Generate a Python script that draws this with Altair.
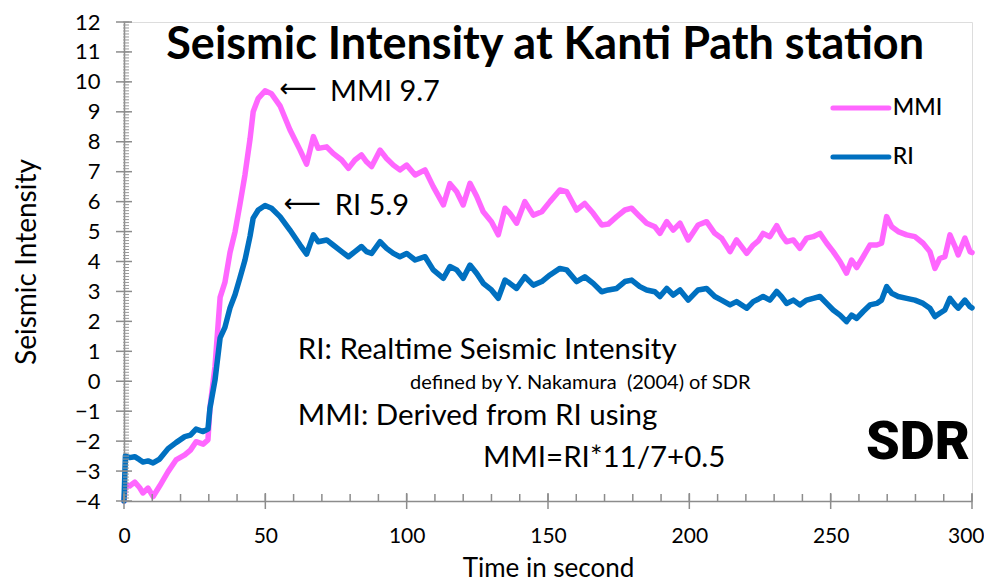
import altair as alt
import pandas as pd

# ---- data ----
time_s = [0, 0.5, 2, 3.8, 5.5, 6.7, 8.5, 10.3, 12.6, 15.6, 18.4, 21.5, 23.5, 25.5, 28, 29.7,
          30.4, 32.2, 34, 35.7, 37.5, 39.3, 41, 42.8, 44.6, 45.7, 47.5, 49.9, 52.2, 55.2, 58.7,
          62.3, 64.6, 67, 68.7, 71.7, 74, 77, 79.4, 81.7, 84, 85.8, 87.6, 90.6, 92.9, 95.3, 97.6,
          100, 103, 106.5, 109.4, 113, 115.3, 117.7, 120, 122.4, 124.8, 127.1, 130, 132.4, 134.8,
          136.5, 138.9, 141.8, 144.8, 147.8, 150.7, 154.2, 156.6, 160.1, 163, 166, 169, 171.3,
          174.3, 177.2, 179.6, 182.5, 184.9, 187.8, 189.6, 192, 194.3, 196.7, 199.6, 203.1, 206.1,
          209, 211.4, 214.4, 216.7, 220.3, 222.6, 224.5, 226.1, 228.5, 230.9, 232.6, 234.4, 236.8,
          239.1, 241.5, 243.8, 246.2, 248.6, 250.9, 253.3, 255.6, 257.4, 259.2, 261.5, 263.9,
          266.3, 268, 269.8, 271.6, 273.9, 276.9, 279.8, 282.7, 285.1, 286.9, 288.6, 290.4, 292.2,
          294, 295.1, 297.5, 299.3, 300]

ri = [-4.0, -2.5, -2.55, -2.52, -2.62, -2.7, -2.66, -2.73, -2.6, -2.25, -2.05, -1.85, -1.8, -1.6,
      -1.68, -1.6, -0.9, 0.04, 1.45, 1.8, 2.45, 2.9, 3.45, 4.05, 4.85, 5.45, 5.72, 5.87, 5.78, 5.5,
      5.05, 4.55, 4.25, 4.89, 4.66, 4.72, 4.55, 4.33, 4.16, 4.33, 4.5, 4.33, 4.27, 4.66, 4.44, 4.27,
      4.16, 4.27, 4.05, 4.16, 3.72, 3.44, 3.83, 3.72, 3.44, 3.88, 3.6, 3.27, 3.05, 2.77, 3.38, 3.27,
      3.1, 3.49, 3.21, 3.33, 3.55, 3.77, 3.72, 3.33, 3.49, 3.27, 2.99, 3.05, 3.1, 3.33, 3.38, 3.16,
      3.05, 2.99, 2.83, 3.1, 2.88, 3.05, 2.71, 3.05, 3.1, 2.83, 2.71, 2.55, 2.66, 2.44, 2.66, 2.75,
      2.83, 2.71, 3.0, 2.83, 2.6, 2.71, 2.55, 2.71, 2.77, 2.83, 2.6, 2.38, 2.21, 1.99, 2.21, 2.1,
      2.33, 2.55, 2.6, 2.71, 3.16, 2.94, 2.83, 2.77, 2.71, 2.6, 2.44, 2.16, 2.27, 2.38, 2.77, 2.55,
      2.44, 2.71, 2.49, 2.45]

mmi = [-4.0, -3.45, -3.5, -3.37, -3.55, -3.73, -3.57, -3.85, -3.5, -3.02, -2.63, -2.46, -2.3, -2.02,
       -2.1, -1.96, -0.9, 0.5, 2.8, 3.3, 4.3, 5.0, 5.9, 6.9, 8.1, 9.0, 9.45, 9.7, 9.6, 9.2,
       8.4, 7.72, 7.25, 8.17, 7.78, 7.83, 7.61, 7.39, 7.11, 7.39, 7.56, 7.33, 7.17, 7.72, 7.44, 7.22,
       7.06, 7.22, 6.89, 7.06, 6.5, 5.89, 6.6, 6.33, 5.89, 6.61, 6.17, 5.66, 5.33, 4.89, 5.78, 5.61,
       5.28, 6.0, 5.55, 5.66, 6.0, 6.39, 6.33, 5.72, 5.94, 5.61, 5.22, 5.25, 5.5, 5.72, 5.78, 5.5,
       5.28, 5.16, 4.94, 5.33, 5.05, 5.28, 4.72, 5.22, 5.33, 4.94, 4.78, 4.33, 4.72, 4.27, 4.55, 4.7,
       4.94, 4.83, 5.2, 4.89, 4.66, 4.72, 4.44, 4.78, 4.83, 4.94, 4.61, 4.33, 4.0, 3.61, 4.05, 3.8,
       4.16, 4.55, 4.55, 4.61, 5.5, 5.16, 5.0, 4.89, 4.83, 4.61, 4.33, 3.77, 4.1, 4.16, 4.89, 4.5,
       4.22, 4.78, 4.33, 4.3]

series_names = ["MMI", "RI"]
series_colors = ["#FF66FF", "#0070C0"]

x_tick_labels = [0, 50, 100, 150, 200, 250, 300]
y_tick_labels = list(range(-4, 13))
x_minor = list(range(0, 301, 10))
y_minor = [round(-4 + 0.1 * i, 1) for i in range(161)]

# legend entries (data coordinates)
legend_series = ["MMI", "RI"]
legend_t0 = [250.8, 250.8]
legend_t1 = [270.6, 270.6]
legend_v = [9.13, 7.49]
legend_label_t = [272.0, 272.0]

FONT = "Lato"

df = pd.DataFrame({
    "t": time_s * 2,
    "v": mmi + ri,
    "series": ["MMI"] * len(time_s) + ["RI"] * len(time_s),
})

x_scale = alt.Scale(domain=[0, 300], nice=False, zero=False)
y_scale = alt.Scale(domain=[-4, 12], nice=False, zero=False)
c_scale = alt.Scale(domain=series_names, range=series_colors)

x_axis = alt.Axis(values=x_tick_labels, tickSize=0, labelPadding=24, labelFontSize=21,
                  labelFont=FONT, labelColor="black", labelFlush=False, labelOverlap=False,
                  labelAlign={"expr": "datum.value >= 300 ? 'right' : 'center'"},
                  labelOffset={"expr": "datum.value >= 300 ? 12 : 0"},
                  grid=False,
                  title="Time in second", titleFont=FONT, titleFontSize=26,
                  titleFontWeight="normal", titleColor="black", titleY=67,
                  titleBaseline="middle", domainColor="#8c8c8c", domainWidth=1.5)
y_axis = alt.Axis(values=y_tick_labels, tickSize=0, labelPadding=24, labelFontSize=22,
                  labelFont=FONT, labelColor="black", labelFlush=False, labelOverlap=False,
                  grid=False,
                  title="Seismic Intensity", titleFont=FONT, titleFontSize=28,
                  titleFontWeight="normal", titleColor="black", titleAngle=270,
                  titleX=-97, titleY=239.5, titleAlign="center", titleBaseline="middle",
                  domainColor="#8c8c8c", domainWidth=1.5)


def X(field):
    return alt.X(field, scale=x_scale, axis=x_axis, title="Time in second")


def Y(field):
    return alt.Y(field, scale=y_scale, axis=y_axis, title="Seismic Intensity")


XD0 = alt.X(datum=0, scale=x_scale, axis=x_axis, title="Time in second")
YDM4 = alt.Y(datum=-4, scale=y_scale, axis=y_axis, title="Seismic Intensity")

base = alt.Chart(df)

mmi_line = base.transform_filter(alt.datum.series == "MMI").mark_line(
    strokeWidth=5.5, strokeJoin="round", strokeCap="round").encode(
    x=X("t:Q"), y=Y("v:Q"),
    color=alt.Color("series:N", scale=c_scale, legend=None),
)
ri_line = base.transform_filter(alt.datum.series == "RI").mark_line(
    strokeWidth=5.5, strokeJoin="round", strokeCap="round").encode(
    x=X("t:Q"), y=Y("v:Q"),
    color=alt.Color("series:N", scale=c_scale, legend=None),
)

tick_color = "#8c8c8c"
y_minor_ticks = alt.Chart(pd.DataFrame({"v": y_minor})).mark_tick(
    orient="horizontal", size=6, thickness=1, color="#9a9a9a", xOffset=2, opacity=1).encode(
    x=XD0, y=Y("v:Q"))
y_major_ticks = alt.Chart(pd.DataFrame({"v": y_tick_labels})).mark_tick(
    orient="horizontal", size=16, thickness=1.5, color=tick_color, opacity=1).encode(
    x=XD0, y=Y("v:Q"))
x_minor_ticks = alt.Chart(pd.DataFrame({"t": x_minor})).mark_tick(
    orient="vertical", size=7, thickness=1.5, color=tick_color, yOffset=-3.5, opacity=1).encode(
    x=X("t:Q"), y=YDM4)
x_major_ticks = alt.Chart(pd.DataFrame({"t": x_tick_labels})).mark_tick(
    orient="vertical", size=16, thickness=1.5, color=tick_color, opacity=1).encode(
    x=X("t:Q"), y=YDM4)

# legend
leg_df = pd.DataFrame({"series": legend_series, "t0": legend_t0, "t1": legend_t1,
                       "v": legend_v, "tl": legend_label_t})
leg_rules = alt.Chart(leg_df).mark_rule(strokeWidth=5, strokeCap="round").encode(
    x=X("t0:Q"), x2="t1:Q", y=Y("v:Q"),
    color=alt.Color("series:N", scale=c_scale, legend=None))
leg_text = alt.Chart(leg_df).mark_text(align="left", baseline="middle", font=FONT,
                                       fontSize=23, fontWeight=500, color="black").encode(
    x=X("tl:Q"), y=Y("v:Q"), text="series:N")

# annotations
title_df = pd.DataFrame({"t": [149.0], "v": [11.23], "txt": ["Seismic Intensity at Kanti Path station"]})
title_mark = alt.Chart(title_df).mark_text(align="center", baseline="middle", font=FONT,
                                           fontSize=45, fontWeight="bold", color="black").encode(
    x=X("t:Q"), y=Y("v:Q"), text="txt:N")

peak_df = pd.DataFrame({"t": [72.9, 74.6], "v": [9.67, 5.85], "txt": ["MMI 9.7", "RI 5.9"]})
peak_text = alt.Chart(peak_df).mark_text(align="left", baseline="middle", font=FONT,
                                         fontSize=29, color="black").encode(
    x=X("t:Q"), y=Y("v:Q"), text="txt:N")
arrow_df = pd.DataFrame({"t": [61.5, 63.0], "v": [9.76, 5.92], "txt": ["\u27f5", "\u27f5"]})
arrow_text = alt.Chart(arrow_df).mark_text(align="center", baseline="middle",
                                           font="DejaVu Sans", fontSize=26,
                                           fontWeight="normal", color="black").encode(
    x=X("t:Q"), y=Y("v:Q"), text="txt:N")

note_big_df = pd.DataFrame({"t": [61.5, 61.5, 127.0], "v": [1.04, -1.16, -2.56],
                            "txt": ["RI: Realtime Seismic Intensity",
                                    "MMI: Derived from RI using",
                                    "MMI=RI*11/7+0.5"]})
note_big = alt.Chart(note_big_df).mark_text(align="left", baseline="middle", font=FONT,
                                            fontSize=29.5, color="black").encode(
    x=X("t:Q"), y=Y("v:Q"), text="txt:N")
note_small_df = pd.DataFrame({"t": [101.2], "v": [-0.06],
                              "txt": ["defined by Y. Nakamura \u00a0(2004) of SDR"]})
note_small = alt.Chart(note_small_df).mark_text(align="left", baseline="middle", font=FONT,
                                                fontSize=20, color="black").encode(
    x=X("t:Q"), y=Y("v:Q"), text="txt:N")

logo_df = pd.DataFrame({"t": [280.9], "v": [-2.06], "txt": ["SDR"]})
logo = alt.Chart(logo_df).mark_text(align="center", baseline="middle", font="Roboto",
                                    fontSize=54, fontWeight=900, color="black").encode(
    x=X("t:Q"), y=Y("v:Q"), text="txt:N")

chart = alt.layer(
    mmi_line, ri_line,
    y_minor_ticks, y_major_ticks, x_minor_ticks, x_major_ticks,
    leg_rules, leg_text, title_mark, peak_text, arrow_text, note_big, note_small, logo,
).properties(
    width=848, height=479,
    autosize=alt.AutoSizeParams(type="none"),
    padding={"left": 116, "top": 14, "right": 12, "bottom": 82},
).configure_view(stroke=None).configure_axis(labelOverlap=False).configure(background="white")

chart.save("out.html", embed_options={"renderer": "svg", "actions": False})
